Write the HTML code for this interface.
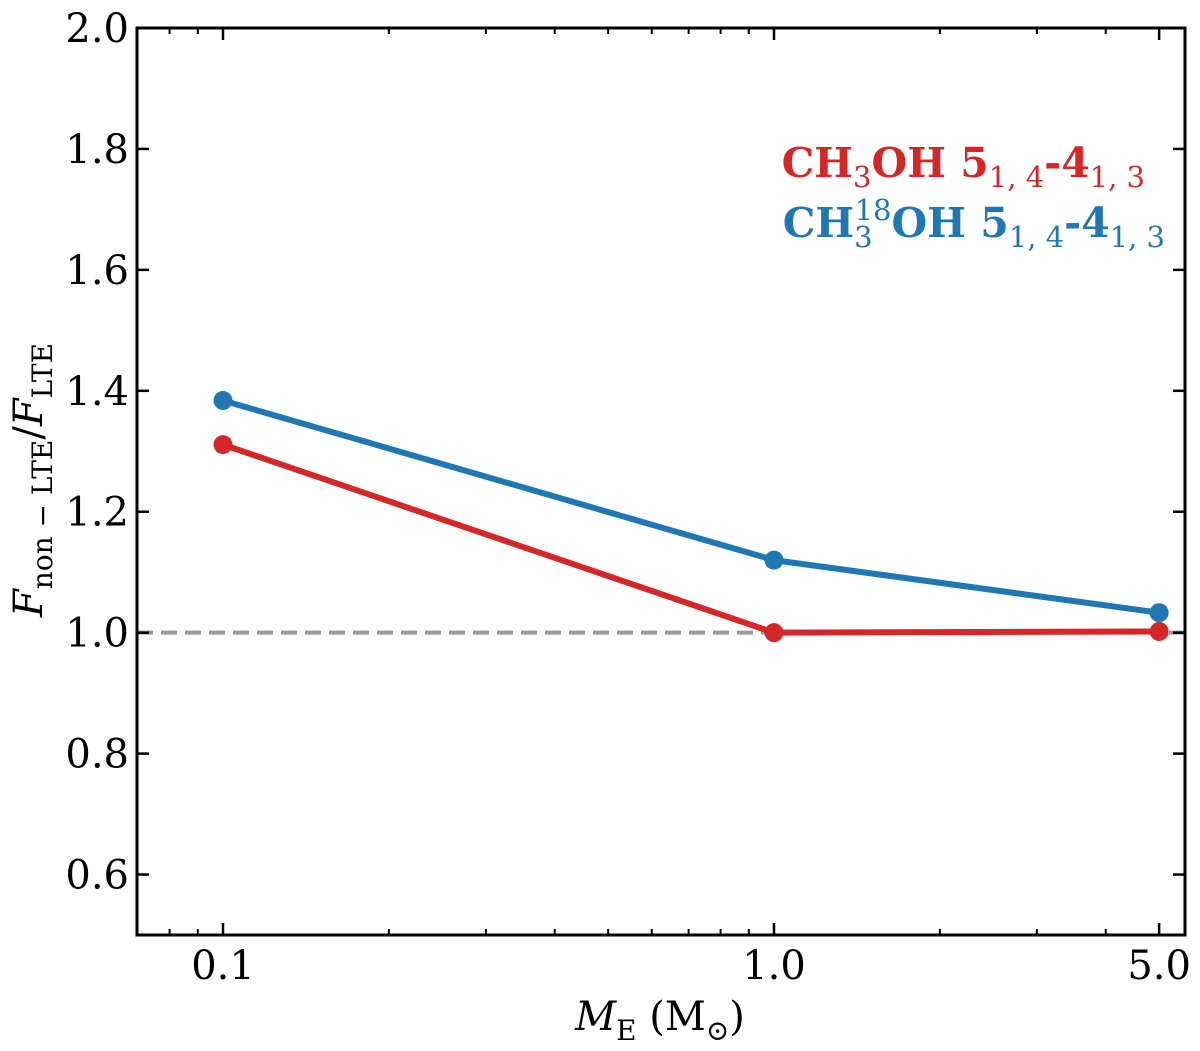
<!DOCTYPE html>
<html><head><meta charset="utf-8"><style>
html,body{margin:0;padding:0;background:#fff;}
svg{display:block;font-family:"DejaVu Serif","Liberation Serif",serif;}
</style></head><body>
<svg id="chart" width="1200" height="1051" viewBox="0 0 1200 1051">
<g id="plot"></g>
</svg>
<script>
const xCategories=[0.1,1.0,5.0];
const ch3ohValues=[1.311,1.0,1.002];
const ch318ohValues=[1.384,1.12,1.033];
const yTicks=[0.6,0.8,1.0,1.2,1.4,1.6,1.8,2.0];
const yTickLabels=["0.6","0.8","1.0","1.2","1.4","1.6","1.8","2.0"];
const xTicks=[0.1,1.0,5.0];
const xTickLabels=["0.1","1.0","5.0"];
const xMinorTicks=[0.08,0.09,0.2,0.3,0.4,0.5,0.6,0.7,0.8,0.9,2,3,4];

const L=137,R=1185,T=28,B=935;
const yMin=0.5,yMax=2.0;
function ys(v){return B-(v-yMin)/(yMax-yMin)*(B-T);}
function xs(v){return 223+(Math.log10(v)+1)*551;}
const NS="http://www.w3.org/2000/svg";
const g=document.getElementById('plot');
function mk(tag,attrs){const e=document.createElementNS(NS,tag);for(const k in attrs)e.setAttribute(k,attrs[k]);g.appendChild(e);return e;}

let ref=mk('line',{x1:L,x2:R,y1:ys(1.0),y2:ys(1.0),stroke:'#999','stroke-width':4,'stroke-dasharray':'16,8'});



function series(vals,color,name){
  const pts=vals.map((v,i)=>xs(xCategories[i])+','+ys(v)).join(' ');
  const pl=mk('polyline',{points:pts,fill:'none',stroke:color,'stroke-width':6,'stroke-linejoin':'round'});
  
  
  vals.forEach((v,i)=>{
    const c=mk('circle',{cx:xs(xCategories[i]),cy:ys(v),r:9.5,fill:color});
    
    
  });
}
series(ch3ohValues,'#d62728','ch3oh');
series(ch318ohValues,'#1f77b4','ch318oh');

const fr=mk('rect',{x:L,y:T,width:R-L,height:B-T,fill:'none',stroke:'#000','stroke-width':3});



yTicks.forEach((v,i)=>{
  const y=ys(v);
  const t=mk('line',{x1:L,x2:L+12,y1:y,y2:y,stroke:'#000','stroke-width':2.5});
  
  
  const t2=mk('line',{x1:R,x2:R-12,y1:y,y2:y,stroke:'#000','stroke-width':2.5});
  
  
  const tx=mk('text',{x:L-8,y:y+14,'text-anchor':'end','font-size':40});
  tx.textContent=yTickLabels[i];
  
  
});
xTicks.forEach((v,i)=>{
  const x=xs(v);
  const t=mk('line',{x1:x,x2:x,y1:B,y2:B-12,stroke:'#000','stroke-width':2.5});
  
  
  const t2=mk('line',{x1:x,x2:x,y1:T,y2:T+12,stroke:'#000','stroke-width':2.5});
  
  
  const tx=mk('text',{x:x,y:B+44,'text-anchor':'middle','font-size':40});
  tx.textContent=xTickLabels[i];
  
  
});
xMinorTicks.forEach(v=>{
  const x=xs(v);
  const t=mk('line',{x1:x,x2:x,y1:B,y2:B-6,stroke:'#000','stroke-width':2});
  
  
  const t2=mk('line',{x1:x,x2:x,y1:T,y2:T+6,stroke:'#000','stroke-width':2});
  
  
});
</script>
<svg style="position:absolute;left:0;top:0" width="1200" height="1051">
<g font-family="DejaVu Serif, Liberation Serif, serif">
<text x="660" y="1030" text-anchor="middle" font-size="40"><tspan font-style="italic">M</tspan><tspan font-size="28" dy="10">E</tspan><tspan dy="-10"> (M</tspan><tspan font-size="28" dy="10">⊙</tspan><tspan dy="-10">)</tspan></text>
<text transform="translate(42,480) rotate(-90)" text-anchor="middle" font-size="40"><tspan font-style="italic">F</tspan><tspan font-size="28" dy="10">non − LTE</tspan><tspan dy="-10">/</tspan><tspan font-style="italic">F</tspan><tspan font-size="28" dy="10">LTE</tspan></text>
<text x="1145" y="177" text-anchor="end" font-size="41" font-weight="bold" fill="#d62728">CH<tspan font-size="29" font-weight="normal" dy="10">3</tspan><tspan dy="-10">OH 5</tspan><tspan font-size="29" font-weight="normal" dy="10">1, 4</tspan><tspan dy="-10">-4</tspan><tspan font-size="29" font-weight="normal" dy="10">1, 3</tspan></text>
<text x="1165" y="237" text-anchor="end" font-size="41" font-weight="bold" fill="#1f77b4">CH<tspan font-size="29" font-weight="normal" dy="10">3</tspan><tspan font-size="29" font-weight="normal" dx="-18" dy="-27">18</tspan><tspan dy="17">OH 5</tspan><tspan font-size="29" font-weight="normal" dy="10">1, 4</tspan><tspan dy="-10">-4</tspan><tspan font-size="29" font-weight="normal" dy="10">1, 3</tspan></text>
</g>
</svg>
</body></html>
